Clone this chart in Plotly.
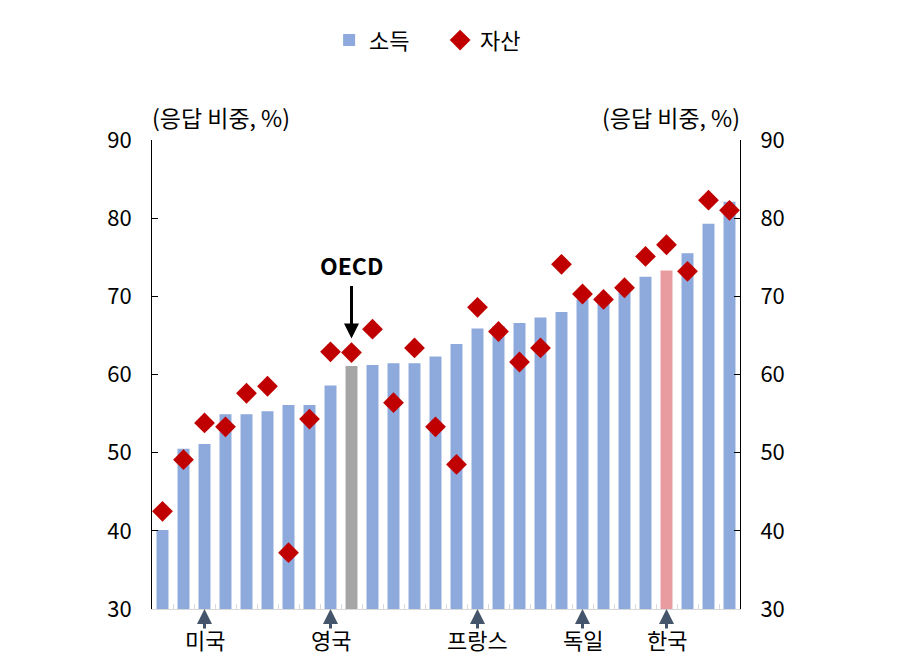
import plotly.graph_objects as go

# Data
positions = list(range(28))
income = [40.1, 50.5, 51.1, 54.9, 54.9, 55.3, 56.1, 56.1, 58.6, 61.1,
          61.2, 61.45, 61.45, 62.3, 63.9, 65.9, 66.2, 66.6, 67.3, 68.0,
          69.6, 70.0, 70.8, 72.5, 73.3, 75.5, 79.3, 82.1]
assets = [42.5, 49.1, 53.8, 53.3, 57.6, 58.5, 37.2, 54.3, 62.9, 62.8,
          65.8, 56.4, 63.4, 53.3, 48.5, 68.6, 65.5, 61.6, 63.4, 74.1,
          70.3, 69.6, 71.1, 75.1, 76.6, 73.2, 82.3, 81.0]
highlight_idx = {2: "미국", 8: "영국", 15: "프랑스", 20: "독일", 24: "한국"}
oecd_idx = 9
korea_idx = 24
ytick_vals = [30, 40, 50, 60, 70, 80, 90]

FONT = "Noto Sans CJK KR, Malgun Gothic, sans-serif"
BLUE = "#8EA9DB"
GRAY = "#A5A5A5"
PINK = "#E99C9F"
RED = "#C00000"

bar_colors = [BLUE] * len(income)
bar_colors[oecd_idx] = GRAY
bar_colors[korea_idx] = PINK

fig = go.Figure()
fig.add_trace(go.Bar(x=positions, y=income, name="소득", marker=dict(color=bar_colors, line=dict(width=0)),
                     width=0.57, yaxis="y"))
fig.add_trace(go.Scatter(x=positions, y=assets, name="자산", mode="markers",
                         marker=dict(symbol="diamond", size=16, color=RED), yaxis="y2"))

annotations = []
for i, lab in highlight_idx.items():
    annotations.append(dict(x=i, y=0, xref="x", yref="y domain", ax=0, ay=21,
                            showarrow=True, arrowhead=2, arrowsize=1, arrowwidth=3, arrowcolor="#44546A",
                            text=""))
    annotations.append(dict(x=i, y=-0.065, xref="x", yref="paper", text=lab, showarrow=False,
                            yanchor="middle", font=dict(size=22, color="#000000", family=FONT)))

annotations.append(dict(x=oecd_idx, y=assets[oecd_idx] + 1.8, xref="x", yref="y",
                        ax=0, ay=-54,
                        showarrow=True, arrowhead=2, arrowsize=1, arrowwidth=3, arrowcolor="#000000", text=""))
annotations.append(dict(x=oecd_idx, y=74.0, xref="x", yref="y", text="<b>OECD</b>",
                        showarrow=False, yanchor="middle", font=dict(size=23, color="#000000", family=FONT)))
annotations.append(dict(x=-0.003, y=1.048, xref="paper", yref="paper", text="(응답 비중, %)", showarrow=False,
                        xanchor="left", yanchor="middle", font=dict(size=23, color="#000000", family=FONT)))
annotations.append(dict(x=1.003, y=1.048, xref="paper", yref="paper", text="(응답 비중, %)", showarrow=False,
                        xanchor="right", yanchor="middle", font=dict(size=23, color="#000000", family=FONT)))

fig.update_layout(
    width=892, height=649,
    margin=dict(l=144, r=160, t=131, b=48),
    paper_bgcolor="white", plot_bgcolor="white",
    font=dict(family=FONT, size=22, color="#000000"),
    showlegend=True,
    legend=dict(orientation="h", x=0.49, xanchor="center", y=1.21, yanchor="middle",
                font=dict(size=22, family=FONT), entrywidth=66, itemwidth=30,
                bgcolor="rgba(0,0,0,0)"),
    xaxis=dict(range=[-0.5, 27.5], showgrid=False, zeroline=False,
               showline=True, linecolor="#D9D9D9", linewidth=1,
               tickmode="array", tickvals=[k - 0.5 for k in range(29)], ticktext=[""] * 29,
               ticks="inside", ticklen=5, tickcolor="#D9D9D9", showticklabels=False),
    yaxis=dict(range=[30, 90], tickvals=ytick_vals, showgrid=False, zeroline=False,
               showline=True, linecolor="#000000", linewidth=1, ticks="inside", ticklen=6,
               tickcolor="#000000", tickfont=dict(size=22), ticklabelstandoff=15),
    yaxis2=dict(range=[30, 90], tickvals=ytick_vals, overlaying="y", side="right", showgrid=False,
                zeroline=False, showline=True, linecolor="#000000", linewidth=1, ticks="inside",
                ticklen=6, tickcolor="#000000", tickfont=dict(size=22), ticklabelstandoff=15),
    annotations=annotations,
)

fig.write_html("out.html")
